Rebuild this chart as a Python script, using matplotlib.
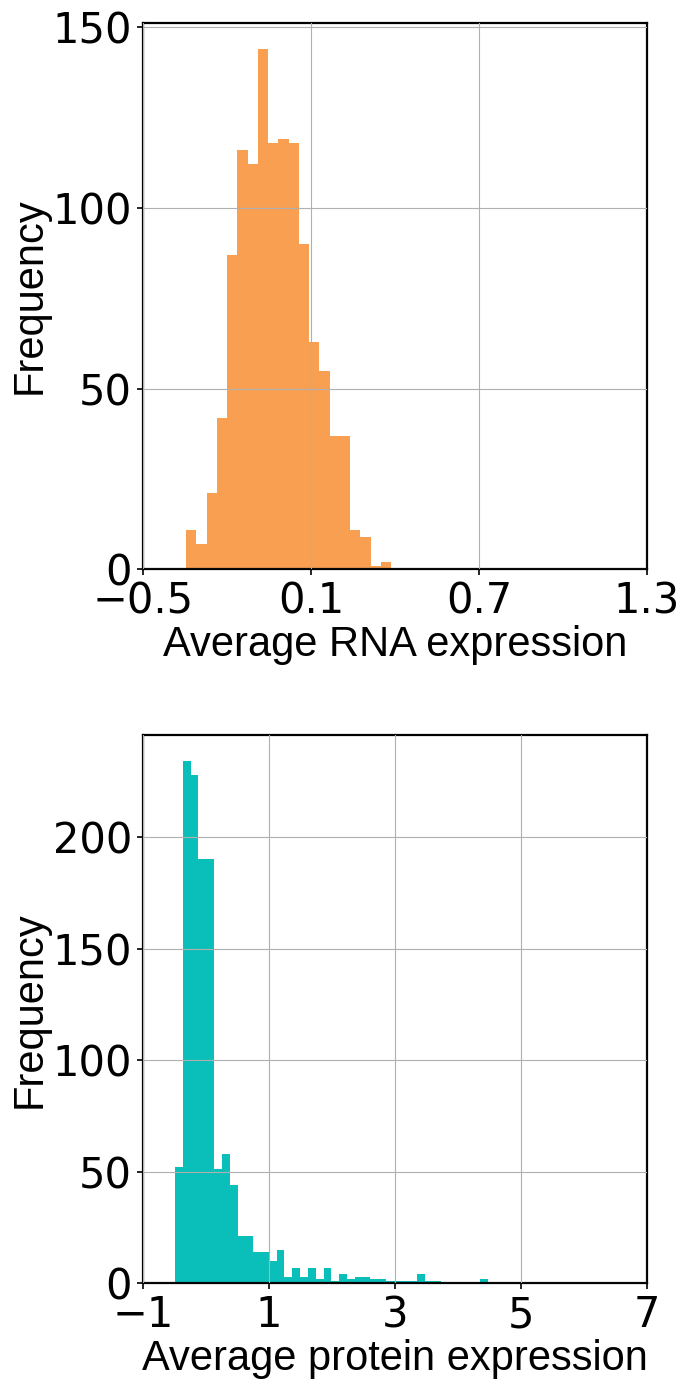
import numpy as np
import matplotlib
matplotlib.use("Agg")
import matplotlib.pyplot as plt

# ---- data ----
rna_range = (-0.347, 0.386)
rna_counts = [11, 7, 21, 42, 87, 116, 112, 144, 118, 119,
              118, 90, 63, 55, 37, 37, 11, 9, 1, 2]

prot_range = (-0.497, 4.475)
prot_counts = [52, 234, 228, 190, 190, 51, 58, 44, 21, 21,
               14, 14, 10, 15, 3, 7, 3, 7, 2, 7,
               1, 4, 2, 3, 3, 2, 2, 1, 1, 1,
               1, 4, 1, 1, 0, 0, 0, 0, 0, 2]

rna_xticks = [-0.5, 0.1, 0.7, 1.3]
rna_yticks = [0, 50, 100, 150]
prot_xticks = [-1, 1, 3, 5, 7]
prot_yticks = [0, 50, 100, 150, 200]

rna_color = "#F99F51"
prot_color = "#0ABFBA"

tick_font = 30
label_font = 30

fig = plt.figure(figsize=(6.89, 13.89), dpi=100)
ax1 = fig.add_axes([0.208, 0.5901, 0.7306, 0.3935])
ax2 = fig.add_axes([0.208, 0.0761, 0.7306, 0.3947])


def draw(ax, rng, counts, color, xticks, yticks, xlabel):
    edges = np.linspace(rng[0], rng[1], len(counts) + 1)
    ax.hist(edges[:-1], bins=edges, weights=counts, color=color,
            histtype="bar", rwidth=1.0)
    ax.set_xlim(xticks[0], xticks[-1])
    ax.set_ylim(0, max(counts) * 1.05)
    ax.set_xticks(xticks)
    ax.set_yticks(yticks)
    ax.grid(True, color="#b0b0b0", linewidth=0.8)
    ax.set_axisbelow(False)
    for s in ax.spines.values():
        s.set_linewidth(1.6)
    ax.tick_params(labelsize=tick_font, width=1.2, length=4.5)
    for lab in ax.get_xticklabels() + ax.get_yticklabels():
        lab.set_family("DejaVu Sans")
    ax.set_xlabel(xlabel, fontsize=label_font, family="Liberation Sans",
                  labelpad=2)
    ax.set_ylabel("Frequency", fontsize=label_font, family="Liberation Sans",
                  labelpad=2)


draw(ax1, rna_range, rna_counts, rna_color, rna_xticks, rna_yticks,
     "Average RNA expression")
draw(ax2, prot_range, prot_counts, prot_color, prot_xticks, prot_yticks,
     "Average protein expression")

fig.savefig("out.png", dpi=100)
